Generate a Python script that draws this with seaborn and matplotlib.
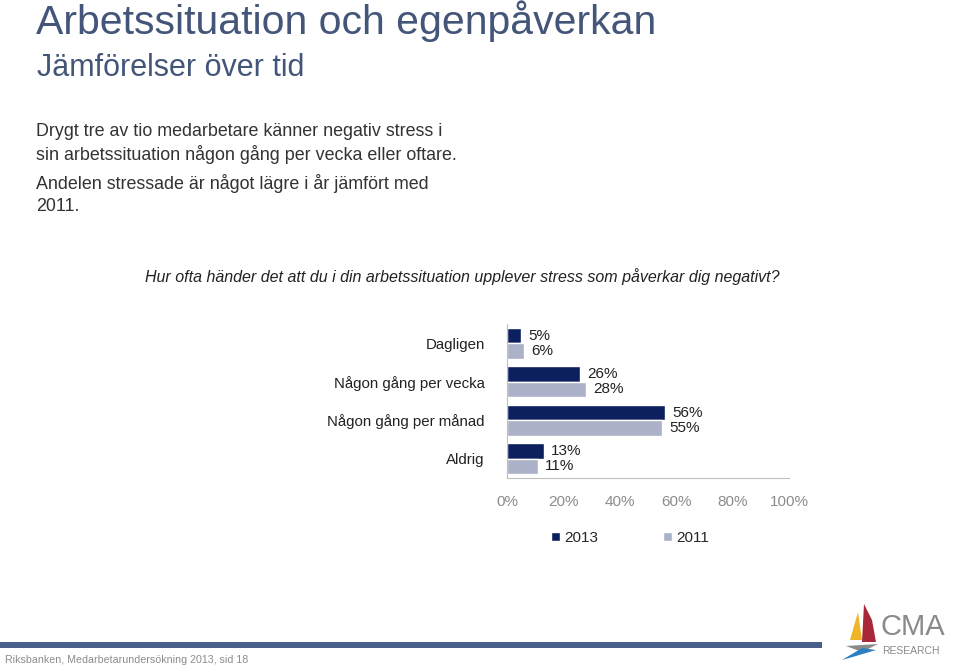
import matplotlib
matplotlib.use("Agg")
import matplotlib.pyplot as plt
import seaborn as sns
import pandas as pd
from matplotlib.patches import Polygon, Patch

# data
categories = ["Dagligen", "Någon gång per vecka", "Någon gång per månad", "Aldrig"]
years = ["2013", "2011"]
values_2013 = [5, 26, 56, 13]
values_2011 = [6, 28, 55, 11]
xticks = [0, 20, 40, 60, 80, 100]

df = pd.DataFrame({
    "kategori": categories * 2,
    "år": ["2013"] * 4 + ["2011"] * 4,
    "andel": values_2013 + values_2011,
})

sns.set_style("white")
plt.rcParams["font.family"] = ["Liberation Sans", "DejaVu Sans"]

fig = plt.figure(figsize=(9.59, 6.68), dpi=100)
ax = fig.add_axes([507 / 959, 1 - 478 / 668, 282 / 959, 154 / 668])

colors = {"2013": "#0c1f5e", "2011": "#aab1c8"}
sns.barplot(data=df, x="andel", y="kategori", hue="år", hue_order=years,
            order=categories, palette=colors, orient="h", width=0.8,
            ax=ax, legend=False, saturation=1)

for cont in ax.containers:
    ax.bar_label(cont, labels=[f"{v:.0f}%" for v in cont.datavalues],
                 padding=5, fontsize=11, color="#222222")

ax.set_xlim(0, 100)
ax.set_ylim(3.5, -0.5)
ax.set_xticks(xticks)
ax.set_xticklabels([f"{t}%" for t in xticks], fontsize=11, color="#8c8c8c")
ax.set_xlabel("")
ax.set_ylabel("")
ax.tick_params(axis="y", which="major", length=0, pad=16, labelsize=10.8, labelcolor="#222222")
ax.set_yticks([-0.5, 0.5, 1.5, 2.5, 3.5], minor=True)
ax.tick_params(axis="y", which="minor", length=4, color="#bfbfbf", direction="out")
ax.tick_params(axis="x", which="major", length=4, color="#bfbfbf", direction="out", pad=8)
for s in ["top", "right"]:
    ax.spines[s].set_visible(False)
for s in ["left", "bottom"]:
    ax.spines[s].set_color("#bfbfbf")
    ax.spines[s].set_linewidth(0.8)

handles = [Patch(facecolor=colors[y], label=y) for y in years]
fig.legend(handles=handles, loc="center", bbox_to_anchor=(630 / 959, 1 - 538 / 668),
           ncol=2, frameon=False, fontsize=11, handlelength=0.6, handleheight=0.6,
           handletextpad=0.3, columnspacing=4.2)

# texts around the chart
title_col = "#44557a"
fig.text(36 / 959, 1 - 21 / 668, "Arbetssituation och egenpåverkan", fontsize=29.5,
         color=title_col, va="center")
fig.text(37 / 959, 1 - 68 / 668, "Jämförelser över tid", fontsize=22,
         color=title_col, va="center")
body = "#333333"
fig.text(36 / 959, 1 - 131 / 668, "Drygt tre av tio medarbetare känner negativ stress i",
         fontsize=12.9, color=body, va="center")
fig.text(36 / 959, 1 - 154 / 668, "sin arbetssituation någon gång per vecka eller oftare.",
         fontsize=12.9, color=body, va="center")
fig.text(36 / 959, 1 - 184 / 668, "Andelen stressade är något lägre i år jämfört med",
         fontsize=12.9, color=body, va="center")
fig.text(36 / 959, 1 - 206 / 668, "2011.", fontsize=12.9, color=body, va="center")
fig.text(462 / 959, 1 - 277 / 668,
         "Hur ofta händer det att du i din arbetssituation upplever stress som påverkar dig negativt?",
         fontsize=11.5, style="italic", color="#222222", ha="center", va="center")

# footer
fig.add_artist(plt.Rectangle((0, 1 - 648 / 668), 822 / 959, 6 / 668,
                             transform=fig.transFigure, color="#4a5f8a", lw=0))
fig.text(5 / 959, 1 - 660 / 668, "Riksbanken, Medarbetarundersökning 2013, sid 18",
         fontsize=7.7, color="#8c8c8c", va="center")

# logo
def px(x, y):
    return (x / 959, 1 - y / 668)

fig.add_artist(Polygon([px(858, 612), px(850, 640), px(862, 640)], closed=True,
                       transform=fig.transFigure, color="#f0b429", lw=0))
fig.add_artist(Polygon([px(864, 604), px(862, 642), px(876, 642), px(872, 620)], closed=True,
                       transform=fig.transFigure, color="#a8283a", lw=0))
fig.add_artist(Polygon([px(846, 646), px(878, 644), px(862, 652)], closed=True,
                       transform=fig.transFigure, color="#8a8a8a", lw=0))
fig.add_artist(Polygon([px(842, 660), px(862, 648), px(876, 650), px(856, 656)], closed=True,
                       transform=fig.transFigure, color="#2d7fc1", lw=0))
fig.text(881 / 959, 1 - 627 / 668, "CMA", fontsize=21, color="#8a8a8a", va="center")
fig.text(882 / 959, 1 - 651 / 668, "RESEARCH", fontsize=7.5, color="#8a8a8a", va="center")

fig.savefig("out.png", dpi=100)
